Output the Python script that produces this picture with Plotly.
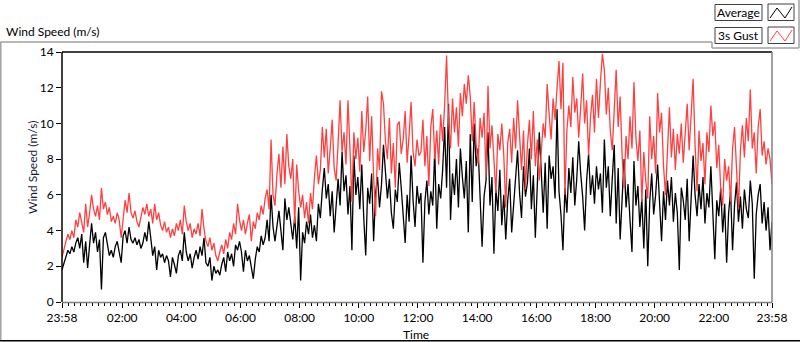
import pandas as pd
import plotly.graph_objects as go

# ---------------- data (one value every 4 minutes) ----------------
start_time = "2000-01-01 23:58"
step_minutes = 4

average = [
    1.8, 2.2, 2.6, 2.9, 2.7, 3.1, 2.8, 3.3, 3.6, 3.0, 3.8, 2.2, 3.4, 1.9, 3.2, 4.4, 3.3, 3.9, 2.8, 3.5,
    0.7, 3.6, 3.9, 3.2, 2.6, 2.9, 2.5, 3.1, 3.4, 2.8, 2.2, 3.7, 4.0, 3.3, 4.2, 3.5, 3.3, 3.6, 3.2, 3.5,
    3.0, 3.3, 3.9, 3.4, 4.5, 3.6, 2.6, 3.1, 1.8, 2.9, 2.5, 2.7, 2.2, 2.6, 2.3, 1.4, 2.5, 2.1, 1.6, 2.6,
    2.9, 2.3, 3.9, 2.8, 2.3, 2.7, 1.9, 2.5, 2.9, 2.4, 3.1, 2.6, 3.6, 2.2, 2.0, 2.5, 1.2, 2.0, 1.6, 1.8,
    1.5, 2.1, 2.5, 1.7, 2.8, 2.3, 2.7, 2.0, 3.2, 2.9, 3.4,
    2.8, 1.7, 2.9, 2.3, 2.6, 1.9, 1.3, 2.4, 3.1, 2.8, 3.7, 3.2, 3.6, 4.6, 3.4, 6.0, 4.2, 3.4, 4.3, 5.1,
    4.0, 2.9, 5.8, 4.6, 5.3, 4.4, 3.5, 4.8, 3.0, 5.3, 1.2, 3.9, 3.3, 4.5, 3.8, 4.9, 3.6, 4.3, 3.4, 5.5,
    4.7, 6.3, 7.5, 5.8, 6.6, 4.8, 6.2, 3.9, 5.6, 6.9, 5.4, 8.4, 6.2, 7.1, 4.9, 6.5, 2.9, 8.2, 6.0, 7.0,
    5.2, 7.7, 4.7, 2.6, 6.4, 5.5, 7.2, 3.4, 6.1, 7.0, 5.3, 6.6, 8.8, 7.4, 5.8, 6.9, 5.0, 4.1, 6.3, 5.6,
    7.8, 6.4, 5.1, 3.3, 6.0, 4.5, 8.2, 5.7, 4.2, 6.5, 5.5,
    6.1, 2.2, 5.6, 6.8, 4.9, 6.2, 5.4, 8.5, 4.1, 6.6, 5.8, 7.4, 9.8, 6.4, 11.1, 4.6, 7.2, 6.0, 8.0, 5.3,
    8.6, 7.0, 5.8, 7.9, 3.9, 9.4, 5.6, 10.0, 7.6, 8.6, 6.2, 3.1, 5.9, 6.8, 9.5, 5.4, 7.0, 2.7, 6.3, 5.1,
    7.4, 4.3, 6.0, 3.5, 5.7, 6.9, 3.9, 5.5, 7.0, 8.5, 6.1, 4.7, 7.6, 5.9, 6.7, 8.6, 5.2, 7.1, 3.6, 6.6,
    9.5, 7.3, 5.0, 7.8, 4.1, 8.2, 6.9, 7.6, 5.8, 10.8, 6.2, 4.9, 2.9, 6.4, 5.0, 7.5, 6.1, 8.1, 5.4, 6.9,
    9.0, 7.2, 5.9, 4.0, 6.8, 8.3, 6.0, 7.1, 5.5, 7.6, 6.3,
    7.2, 5.0, 9.1, 6.4, 7.6, 4.8, 6.9, 8.8, 4.4, 7.5, 3.5, 6.0, 8.0, 5.3, 6.6, 4.6, 2.8, 7.9, 5.4, 6.5,
    4.2, 5.8, 3.0, 6.3, 2.0, 5.6, 7.2, 4.9, 6.0, 7.7, 5.1, 3.4, 6.2, 4.6, 6.8, 5.4, 7.0, 4.5, 6.1, 5.0,
    1.8, 6.4, 5.7, 4.6, 6.9, 3.4, 5.8, 8.2, 6.0, 4.8, 6.6, 5.2, 7.0, 4.4, 6.1, 5.3, 7.6, 4.9, 2.4, 5.7,
    4.8, 6.4, 3.9, 5.5, 2.2, 5.0, 6.2, 2.9, 5.4, 6.7, 4.5, 5.9, 4.1, 6.3, 5.2, 4.7, 6.8, 5.5, 1.3, 4.9,
    6.0, 6.6, 4.4, 5.6, 4.0, 5.3, 2.9, 4.5,
]

gust = [
    2.5, 3.0, 3.4, 3.8, 3.5, 4.0, 3.6, 4.6, 4.2, 5.0, 4.4, 3.9, 5.5, 4.2, 5.0, 6.0, 5.2, 4.8, 5.4, 4.6,
    6.4, 5.2, 5.6, 4.9, 5.3, 4.5, 4.8, 4.4, 5.0, 4.6, 3.6, 4.8, 5.7, 5.0, 6.1, 5.0, 4.7, 5.1, 4.5, 4.2,
    4.7, 5.3, 4.9, 5.5, 4.8, 5.2, 4.4, 5.5, 4.6, 5.0, 4.3, 4.0, 4.5, 3.9, 4.2, 3.6, 4.1, 3.7, 4.4, 4.0,
    4.6, 3.8, 5.4, 4.5, 4.0, 4.4, 3.6, 4.1, 3.8, 4.4, 3.7, 5.2, 4.1, 3.4, 3.1, 3.6, 2.9, 3.3, 2.6, 2.3,
    2.8, 3.2, 2.7, 3.5, 3.0, 3.9, 3.5, 4.4, 3.8, 5.5, 4.6,
    4.0, 4.6, 3.8, 4.4, 4.9, 3.4, 4.5, 4.1, 5.0, 4.6, 5.4, 4.9, 5.8, 6.3, 5.2, 9.1, 6.0, 5.4, 7.2, 8.3,
    6.4, 8.7, 6.6, 9.4, 7.6, 6.9, 8.0, 4.4, 7.7, 6.2, 5.3, 6.0, 4.7, 5.6, 4.4, 6.1, 5.2, 7.0, 8.2, 6.6,
    7.4, 9.8, 8.1, 9.7, 7.2, 8.6, 10.2, 7.5, 6.8, 8.9, 11.3, 8.4, 9.5, 7.7, 11.3, 8.6, 5.6, 9.5, 8.0, 9.2,
    7.3, 10.7, 8.4, 9.6, 11.5, 7.9, 10.4, 7.0, 4.8, 8.6, 7.4, 11.8, 11.1, 9.0, 8.0, 10.3, 7.2, 8.9, 6.4, 9.9,
    10.1, 8.3, 9.1, 10.7, 7.8, 9.4, 11.2, 8.4, 7.6, 9.1, 8.2,
    8.4, 10.2, 7.6, 9.3, 6.5, 9.8, 10.8, 8.0, 9.6, 7.7, 10.5, 9.0, 11.0, 13.8, 10.1, 8.6, 11.4, 9.5, 10.9, 8.7,
    11.7, 10.4, 12.2, 11.1, 12.7, 11.5, 9.0, 11.2, 8.8, 7.7, 10.3, 9.2, 10.6, 7.0, 12.1, 8.6, 9.9, 8.1, 6.1, 9.4,
    8.5, 10.0, 8.2, 5.3, 8.9, 9.7, 7.8, 10.3, 8.6, 11.3, 9.0, 7.4, 9.6, 6.3, 8.8, 10.2, 8.0, 10.7, 7.6, 9.1,
    6.8, 8.7, 10.0, 9.2, 12.2, 10.5, 9.1, 11.4, 10.2, 12.0, 13.5, 10.8, 13.4, 6.0, 9.6, 11.0, 9.8, 12.6, 10.6, 11.4,
    9.2, 10.9, 12.8, 10.0, 11.3, 8.2, 10.4, 11.6, 9.5, 12.5, 10.3,
    12.3, 13.9, 13.0, 10.5, 12.0, 9.6, 8.5, 11.0, 13.0, 9.8, 11.5, 8.2, 6.4, 9.3, 8.0, 10.4, 8.6, 12.3, 9.2, 7.9,
    9.6, 5.6, 8.4, 6.8, 5.8, 10.4, 8.0, 9.3, 7.2, 11.7, 9.5, 10.6, 7.6, 6.0, 9.0, 10.9, 8.1, 9.7, 7.4, 9.4,
    8.3, 10.0, 7.8, 9.2, 11.1, 8.5, 10.2, 12.5, 8.8, 6.2, 9.6, 7.9, 8.9, 6.6, 9.5, 8.4, 11.0, 9.3, 10.1, 7.5,
    8.8, 6.3, 5.4, 8.0, 6.8, 7.6, 5.6, 8.6, 9.8, 7.4, 5.2, 8.5, 9.9, 8.1, 10.3, 9.0, 11.9, 8.6, 9.5, 7.2,
    9.8, 10.8, 8.2, 9.0, 7.7, 8.6, 8.0, 6.6,
]

x_tick_labels = ["23:58", "02:00", "04:00", "06:00", "08:00", "10:00", "12:00",
                 "14:00", "16:00", "18:00", "20:00", "22:00", "23:58"]
y_tick_values = [0, 2, 4, 6, 8, 10, 12, 14]

times = pd.date_range(start=start_time, periods=len(average), freq=f"{step_minutes}min")
end_time = times[-1]
x_tick_values = [times[0]] + list(pd.date_range("2000-01-02 02:00", "2000-01-02 22:00", freq="2h")) + [end_time]

# ---------------- layout geometry (pixels) ----------------
W, H = 800, 342
L, R, T, B = 62, 772, 52, 302   # plot area in pixels

def px(x):
    return (x - L) / (R - L)

def py(y):
    return (B - y) / (B - T)

FONT = "Lato"

fig = go.Figure()
fig.add_trace(go.Scatter(x=times, y=average, mode="lines", name="Average",
                         line=dict(color="#000000", width=1.3), showlegend=False))
fig.add_trace(go.Scatter(x=times, y=gust, mode="lines", name="3s Gust",
                         line=dict(color="#FF4040", width=1.3), showlegend=False))

fig.update_layout(
    width=W, height=H,
    margin=dict(l=L, r=W - R, t=T, b=H - B, pad=0),
    paper_bgcolor="white", plot_bgcolor="white",
    font=dict(family=FONT, size=12, color="#000000"),
    showlegend=False,
)

fig.update_xaxes(
    range=[times[0], end_time],
    tickmode="array", tickvals=x_tick_values, ticktext=x_tick_labels,
    ticks="outside", ticklen=5, tickwidth=1, tickcolor="#000000",
    tickfont=dict(family=FONT, size=12, color="#000000"),
    showgrid=False, zeroline=False, showline=False,
    minor=dict(dtick=12 * 60 * 1000, tick0="2000-01-02 00:00", ticks="outside",
               ticklen=3, tickcolor="#000000", tickwidth=1, showgrid=False),
    fixedrange=True,
)
fig.update_yaxes(
    range=[0, 14], tickmode="array", tickvals=y_tick_values,
    ticks="outside", ticklen=5, tickwidth=1, tickcolor="#000000",
    tickfont=dict(family=FONT, size=12, color="#000000"),
    showgrid=False, zeroline=False, showline=False, fixedrange=True,
)

shapes = []
def line(x0, y0, x1, y1, color, width=1):
    shapes.append(dict(type="line", xref="paper", yref="paper",
                       x0=px(x0), y0=py(y0), x1=px(x1), y1=py(y1),
                       line=dict(color=color, width=width), layer="above"))

# plot-area border (sunken look)
line(L, T, R, T, "#000000", 1.5)
line(L, T, L, B, "#000000", 1.5)
line(L, B + 0.5, R, B + 0.5, "#808080", 1.5)
line(R, T, R, B + 0.5, "#808080", 1.5)

# outer frame
line(0.5, 42, 712, 42, "#a0a0a0", 1.5)
line(0.8, 42, 0.8, 341, "#a0a0a0", 1.5)
line(0, 340.8, 800, 340.8, "#000000", 1.5)
line(712, 42, 712, 48, "#a0a0a0", 1.5)
line(712, 48, 799, 48, "#a0a0a0", 1.5)
line(799, 0, 799, 48, "#a0a0a0", 1.5)

# legend boxes
def rect(x0, y0, x1, y1):
    shapes.append(dict(type="rect", xref="paper", yref="paper",
                       x0=px(x0), y0=py(y1), x1=px(x1), y1=py(y0),
                       line=dict(color="#404040", width=1), fillcolor="white", layer="above"))

def zig(x0, y0, color):
    pts = [(x0, y0 + 13), (x0 + 7, y0 + 3), (x0 + 15, y0 + 13), (x0 + 22, y0 + 2)]
    path = "M " + " L ".join(f"{px(a)},{py(b)}" for a, b in pts)
    shapes.append(dict(type="path", xref="paper", yref="paper", path=path,
                       line=dict(color=color, width=1), layer="above"))

rect(715, 4.5, 762, 20.5)
rect(768, 4, 794, 20.5)
zig(770, 5, "#000000")
rect(715, 27.5, 762, 43.5)
rect(768, 27, 794, 43.5)
zig(770, 28, "#FF4040")

fig.update_layout(shapes=shapes)

annotations = [
    dict(text="Wind Speed (m/s)", x=px(4), y=py(32), xanchor="left", yanchor="middle",
         font=dict(family=FONT, size=12, color="#000000")),
    dict(text="Wind Speed (m/s)", x=px(32), y=py(168), xanchor="center", yanchor="middle",
         textangle=-90, font=dict(family=FONT, size=12, color="#1a1a3a")),
    dict(text="Time", x=px(416), y=py(334), xanchor="center", yanchor="middle",
         font=dict(family=FONT, size=12, color="#000000")),
    dict(text="Average", x=px(738.5), y=py(12.5), xanchor="center", yanchor="middle",
         font=dict(family=FONT, size=12, color="#000000")),
    dict(text="3s Gust", x=px(738.5), y=py(35.5), xanchor="center", yanchor="middle",
         font=dict(family=FONT, size=12, color="#000000")),
]
for a in annotations:
    a.update(xref="paper", yref="paper", showarrow=False)
fig.update_layout(annotations=annotations)

fig.write_html(
    "out.html",
    config={"displayModeBar": False, "staticPlot": True},
    post_script="document.body.style.margin='0';document.body.style.overflow='hidden';",
)
